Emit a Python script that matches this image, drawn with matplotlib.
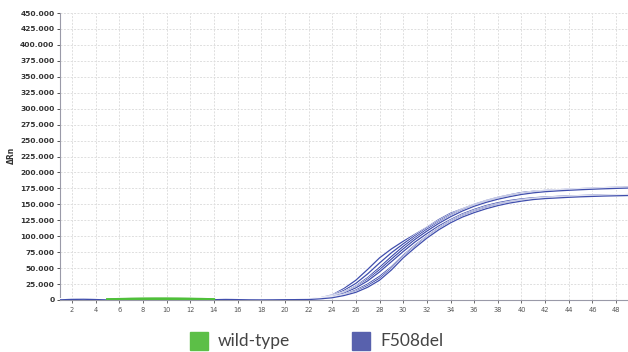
import matplotlib
matplotlib.use("Agg")
import matplotlib.pyplot as plt
import matplotlib.patheffects as pe
from matplotlib.ticker import FuncFormatter
from matplotlib.patches import Rectangle

cycles = list(range(1, 50))

# baseline (cycles 1-21) shared by F508del traces
baseline = [300, 900, 1100, 700, 200, 0, 100, 300, 200, 0, 100, 200, 300,
            500, 800, 600, 300, 200, 300, 500, 600]

# cycles 22-49
f508_A = [1500, 3500, 8000, 18000, 31000, 48000, 66000, 80000, 92000, 103000, 114000,
          126000, 136000, 143000, 150000, 156000, 161000, 165000, 168500, 170500, 171800,
          172800, 173800, 174700, 175500, 176200, 176800, 177200]
f508_B = [1200, 3000, 7000, 15000, 26000, 41000, 58000, 74000, 88000, 101000, 113000,
          124000, 134000, 142000, 149000, 155000, 160000, 164000, 167000, 169500, 171000,
          172000, 173000, 174000, 174800, 175500, 176000, 176500]
f508_C = [1000, 2500, 6000, 12500, 22000, 35000, 51000, 68000, 84000, 98000, 111000,
          122000, 132000, 141000, 148000, 154000, 159000, 163000, 166500, 169000, 170500,
          171500, 172500, 173300, 174000, 174600, 175000, 175400]
f508_G = [950, 2300, 5500, 11500, 20500, 32500, 47500, 64000, 80000, 95000, 108000,
          120000, 130500, 139500, 147000, 153000, 158000, 162000, 165500, 168000, 169800,
          171000, 172000, 172900, 173700, 174400, 175000, 175500]
f508_D = [900, 2200, 5000, 10500, 19000, 30000, 44000, 60000, 76000, 91000, 104000,
          116000, 126000, 135000, 142000, 148000, 152500, 156000, 158500, 160300, 161500,
          162400, 163200, 163800, 164300, 164700, 165000, 165300]
f508_E = [800, 2000, 4200, 8500, 15500, 25000, 37000, 52000, 70000, 86000, 100000,
          113000, 124000, 133000, 140000, 146000, 150500, 154000, 156800, 158800, 160200,
          161200, 162000, 162600, 163100, 163500, 163800, 164100]
f508_H = [750, 1900, 3800, 7700, 13500, 22500, 34000, 49500, 68000, 84000, 98500,
          111500, 122500, 131500, 138500, 144500, 149200, 153000, 155900, 158100, 159600,
          160600, 161500, 162200, 162800, 163200, 163600, 164000]
f508_F = [700, 1800, 3500, 7000, 12000, 20000, 31000, 47000, 66000, 82000, 97000,
          110000, 121000, 130000, 137000, 143000, 148000, 152000, 155000, 157500, 159000,
          160000, 161000, 161800, 162400, 163000, 163400, 163800]

wt_cycles = [5, 6, 7, 8, 9, 10, 11, 12, 13, 14]
wt_1 = [800, 1300, 1700, 1900, 2000, 2000, 1900, 1700, 1400, 900]
wt_2 = [600, 1000, 1300, 1500, 1600, 1600, 1500, 1300, 1000, 600]

y_ticks = list(range(0, 450001, 25000))
x_ticks = list(range(2, 49, 2))
legend_labels = ["wild-type", "F508del"]

blue = "#3544a8"
green = "#4fbf3a"

fig = plt.figure(figsize=(6.28, 3.52), dpi=100)
ax = fig.add_axes([60/628, 52/352, 1 - 60/628, (300-13)/352])

for s in [f508_A, f508_B, f508_C, f508_G, f508_D, f508_E, f508_H, f508_F]:
    ax.plot(cycles, baseline + s, color=blue, lw=0.9, alpha=0.95,
            path_effects=[pe.Stroke(linewidth=1.7, foreground="white"), pe.Normal()],
            zorder=3, solid_capstyle="round")
for s in [wt_1, wt_2]:
    ax.plot(wt_cycles, s, color=green, lw=1.8, zorder=4)

ax.set_xlim(1, 49)
ax.set_ylim(0, 450000)
ax.set_yticks(y_ticks)
ax.set_xticks(x_ticks)
ax.yaxis.set_major_formatter(FuncFormatter(lambda v, p: "0" if v == 0 else f"{int(v):,}".replace(",", ".")))
ax.grid(True, color="#dedede", lw=0.7, ls=(0, (2, 1.5)))
ax.set_axisbelow(True)
for sp in ["top", "right"]:
    ax.spines[sp].set_visible(False)
ax.spines["left"].set_color("#9a9aa8")
ax.spines["bottom"].set_color("#9a9aa8")
ax.tick_params(axis="y", labelsize=5.4, colors="#333333", length=2, width=0.6, pad=2)
ax.tick_params(axis="x", labelsize=4.8, colors="#555555", length=2, width=0.6, pad=3)
for lbl in ax.get_yticklabels():
    lbl.set_fontweight("bold")
ax.set_ylabel("ΔRn", fontsize=5.5, color="#333333", fontweight="bold")
ax.yaxis.set_label_coords(-0.078, 0.505)

# legend
fig.patches.append(Rectangle((190/628, 2/352), 18/628, 18/352, transform=fig.transFigure,
                             color="#5cbf47", figure=fig))
fig.text(218/628, 11/352, legend_labels[0], fontsize=12.5, color="#444444",
         family="Lato", va="center", ha="left")
fig.patches.append(Rectangle((352/628, 2/352), 18/628, 18/352, transform=fig.transFigure,
                             color="#5861ad", figure=fig))
fig.text(380/628, 11/352, legend_labels[1], fontsize=12.5, color="#444444",
         family="Lato", va="center", ha="left")

fig.savefig("out.png", dpi=100, facecolor="white")
